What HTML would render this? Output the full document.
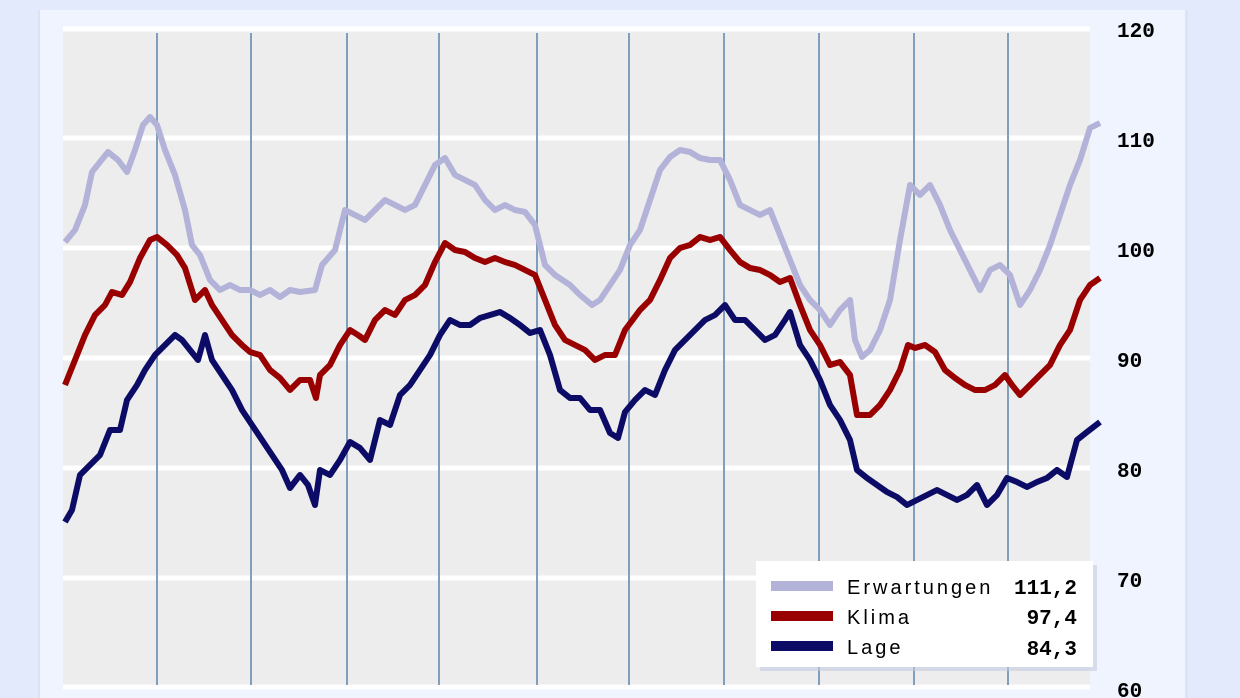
<!DOCTYPE html>
<html><head><style>
html,body{margin:0;padding:0;background:#e2eafb;}
svg{display:block}
</style></head><body>
<svg width="1240" height="698" xmlns="http://www.w3.org/2000/svg">
<rect width="1240" height="698" fill="#e2eafb"/>
<rect x="38" y="10" width="1150" height="700" fill="#dbe3f5"/>
<rect x="40" y="10" width="1145" height="700" fill="#eff4fe"/>
<rect x="63" y="28" width="1027" height="660" fill="#ededed"/>
<g stroke="#ffffff" stroke-width="5">
<line x1="63" y1="138" x2="1090" y2="138"/><line x1="63" y1="248" x2="1090" y2="248"/>
<line x1="63" y1="358" x2="1090" y2="358"/><line x1="63" y1="468" x2="1090" y2="468"/>
<line x1="63" y1="578" x2="1090" y2="578"/><line x1="63" y1="687" x2="1090" y2="687"/>
<line x1="63" y1="29" x2="1090" y2="29"/>
</g>
<g stroke="#7f9fbd" stroke-width="2">
<line x1="157" y1="33" x2="157" y2="685"/><line x1="251" y1="33" x2="251" y2="685"/>
<line x1="347" y1="33" x2="347" y2="685"/><line x1="439" y1="33" x2="439" y2="685"/>
<line x1="537" y1="33" x2="537" y2="685"/><line x1="629" y1="33" x2="629" y2="685"/>
<line x1="724" y1="33" x2="724" y2="685"/><line x1="819" y1="33" x2="819" y2="685"/>
<line x1="914" y1="33" x2="914" y2="685"/><line x1="1008" y1="33" x2="1008" y2="685"/>
</g>
<g fill="none" stroke-width="6" stroke-linejoin="round">
<polyline stroke="#b3b3d9" points="65,242 75,230 85,205 92,172 100,162 108,152 118,160 127,172 135,150 143,125 150,117 157,125 165,150 175,175 185,210 192,245 200,255 210,280 220,290 230,285 240,290 250,290 260,295 270,290 280,297 290,290 300,292 315,290 322,265 335,250 345,210 355,215 365,220 375,210 385,200 395,205 405,210 415,205 425,185 435,165 445,158 455,175 465,180 475,185 485,200 495,210 505,205 515,210 525,212 535,225 545,265 555,275 570,285 580,295 592,305 600,300 610,285 620,270 630,245 640,230 650,200 660,170 670,157 680,150 690,152 700,158 710,160 720,160 730,180 740,205 750,210 760,215 770,210 780,235 790,260 800,285 810,300 820,310 830,325 840,310 850,300 855,340 862,357 870,350 880,330 890,300 900,240 910,185 920,195 930,185 940,205 950,230 960,250 970,270 980,290 990,270 1000,265 1010,275 1020,305 1030,290 1040,270 1050,245 1060,215 1070,185 1080,160 1090,128 1100,123"/>
<polyline stroke="#990000" points="65,385 75,360 85,335 95,315 105,305 112,292 122,295 130,282 140,258 150,240 157,237 167,245 177,255 185,268 195,300 205,290 212,305 222,320 232,335 242,345 250,352 260,355 270,370 280,378 290,390 300,380 310,380 316,398 320,375 330,365 340,345 350,330 358,335 365,340 375,320 385,310 395,315 405,300 415,295 425,285 435,262 445,243 455,250 465,252 475,258 485,262 495,258 505,262 515,265 525,270 535,275 545,300 555,325 565,340 575,345 585,350 595,360 605,355 615,355 625,330 640,310 650,300 660,280 670,258 680,248 690,245 700,237 710,240 720,237 730,250 740,262 750,268 760,270 770,275 780,282 790,278 800,305 810,330 820,345 830,365 840,362 850,375 857,415 870,415 880,405 890,390 900,370 908,345 915,348 925,345 935,352 945,370 955,378 965,385 975,390 985,390 995,385 1005,375 1012,385 1020,395 1030,385 1040,375 1050,365 1060,345 1070,330 1080,300 1090,285 1100,278"/>
<polyline stroke="#0c0c66" points="65,522 72,510 80,475 90,465 100,455 110,430 120,430 127,400 137,385 145,370 155,355 165,345 175,335 182,340 190,350 198,360 205,335 212,360 222,375 232,390 242,410 252,425 262,440 272,455 282,470 290,488 300,475 308,485 315,505 320,470 330,475 340,460 350,442 360,448 370,460 380,420 390,425 400,395 410,385 420,370 430,355 440,335 450,320 460,325 470,325 480,318 490,315 500,312 510,318 520,325 530,333 540,330 550,355 560,390 570,398 580,398 590,410 600,410 610,433 618,438 625,412 635,400 645,390 655,395 665,370 675,350 685,340 695,330 705,320 715,315 725,305 735,320 745,320 755,330 765,340 775,335 785,320 790,312 800,345 810,360 820,380 830,405 840,420 850,440 857,470 867,478 877,485 887,492 897,497 907,505 917,500 927,495 937,490 947,495 957,500 967,495 977,485 987,505 997,495 1007,478 1017,482 1027,487 1037,482 1047,478 1057,470 1067,477 1077,440 1087,432 1100,422"/>
</g>
<rect x="760" y="565" width="337" height="106" fill="#c5cbe0" opacity="0.6"/>
<rect x="756" y="561" width="337" height="106" fill="#ffffff"/>
<rect x="771" y="581" width="62" height="10" fill="#b3b3d9"/>
<rect x="771" y="611" width="62" height="10" fill="#990000"/>
<rect x="771" y="641" width="62" height="10" fill="#0c0c66"/>
<g font-family="Liberation Sans, sans-serif" font-size="20" fill="#000" letter-spacing="3">
<text x="847" y="594">Erwartungen</text>
<text x="847" y="624">Klima</text>
<text x="847" y="654">Lage</text>
</g>
<g font-family="Liberation Mono, monospace" font-size="21" font-weight="bold" fill="#000" text-anchor="end">
<text x="1077" y="594">111,2</text>
<text x="1077" y="624">97,4</text>
<text x="1077" y="655">84,3</text>
</g>
<g font-family="Liberation Mono, monospace" font-size="21" font-weight="bold" fill="#000">
<text x="1117" y="37">120</text>
<text x="1117" y="147">110</text>
<text x="1117" y="257">100</text>
<text x="1117" y="367">90</text>
<text x="1117" y="477">80</text>
<text x="1117" y="587">70</text>
<text x="1117" y="697">60</text>
</g>
</svg>
</body></html>
